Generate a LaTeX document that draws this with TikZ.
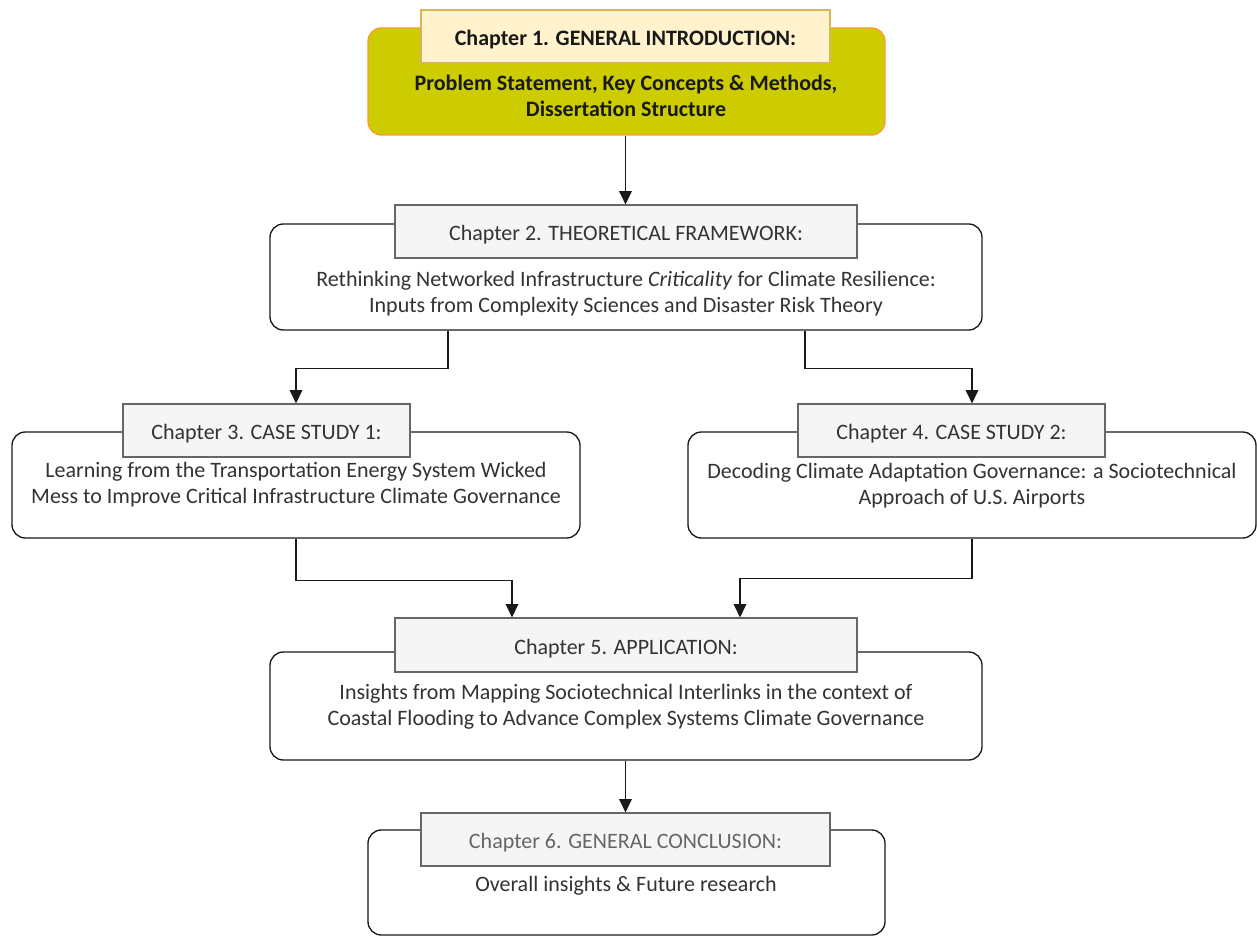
\documentclass[tikz,border=0pt]{standalone}
\usepackage{fontspec}
\setmainfont{Carlito}
\usetikzlibrary{arrows.meta,positioning,calc}
\definecolor{olivefill}{HTML}{CCCC00}
\definecolor{orangeline}{HTML}{FF9933}
\definecolor{creamfill}{HTML}{FFF2CC}
\definecolor{creamline}{HTML}{D6B656}
\definecolor{greyfill}{HTML}{F5F5F5}
\definecolor{greyline}{HTML}{666666}
\definecolor{txt}{HTML}{333333}
\tikzset{
  outerbox/.style={draw=black!90, fill=white, rounded corners=10pt, line width=1pt, inner sep=0pt},
  labbox/.style={draw=greyline, fill=greyfill, line width=0.9pt, inner sep=0pt, text=txt, text height=1.55em, text depth=0.2em, font=\fontsize{16.5}{19.5}\selectfont},
  bodytxt/.style={align=center, text=txt, font=\fontsize{16.5}{19.5}\selectfont},
  arr/.style={-{Triangle[length=10pt,width=9.5pt]}, line width=1pt, black!90}
}
\begin{document}
\begin{tikzpicture}[x=0.75pt, y=-0.75pt]
      \useasboundingbox (0,0) rectangle (1257,937);
      % Chapter 1
      \node[outerbox, fill=olivefill, draw=orangeline, minimum width=517*0.75pt, minimum height=107*0.75pt] (ch1) at (626.5,81.5) {};
      \node[labbox, fill=creamfill, draw=creamline, minimum width=409*0.75pt, minimum height=53*0.75pt, font=\fontsize{16.5}{19.5}\selectfont\bfseries, text=black!90] (ch1lab) at (625.5,36.5) {Chapter 1. GENERAL INTRODUCTION:};
      \node[bodytxt, font=\fontsize{16.5}{19.5}\selectfont\bfseries, text=black!90] (ch1txt) at (626,96) {Problem Statement, Key Concepts \& Methods,\\Dissertation Structure};
      % Chapter 2
      \node[outerbox, minimum width=712*0.75pt, minimum height=106*0.75pt] (ch2) at (626,277) {};
      \node[labbox, minimum width=462*0.75pt, minimum height=53*0.75pt] (ch2lab) at (626,231.5) {Chapter 2. THEORETICAL FRAMEWORK:};
      \node[bodytxt] (ch2txt) at (626,294) {Rethinking Networked Infrastructure \textit{Criticality} for Climate Resilience:\\Inputs from Complexity Sciences and Disaster Risk Theory};
      % Chapter 3 and 4
      \node[outerbox, minimum width=568*0.75pt, minimum height=106*0.75pt] (ch3) at (296,485) {};
      \node[labbox, minimum width=287*0.75pt, minimum height=53*0.75pt] (ch3lab) at (266.5,430.5) {Chapter 3. CASE STUDY 1:};
      \node[bodytxt] (ch3txt) at (296,485) {Learning from the Transportation Energy System Wicked\\Mess to Improve Critical Infrastructure Climate Governance};
      \node[outerbox, minimum width=568*0.75pt, minimum height=106*0.75pt] (ch4) at (972,485) {};
      \node[labbox, minimum width=307*0.75pt, minimum height=53*0.75pt] (ch4lab) at (951.5,430.5) {Chapter 4. CASE STUDY 2:};
      \node[bodytxt] (ch4txt) at (972,486) {Decoding Climate Adaptation Governance: a Sociotechnical\\Approach of U.S. Airports};
      % Chapter 5
      \node[outerbox, minimum width=712*0.75pt, minimum height=108*0.75pt] (ch5) at (626,706) {};
      \node[labbox, minimum width=462*0.75pt, minimum height=54*0.75pt] (ch5lab) at (626,645) {Chapter 5. APPLICATION:};
      \node[bodytxt] (ch5txt) at (626,707) {Insights from Mapping Sociotechnical Interlinks in the context of\\Coastal Flooding to Advance Complex Systems Climate Governance};
      % Chapter 6
      \node[outerbox, minimum width=517*0.75pt, minimum height=105*0.75pt] (ch6) at (626.5,882.5) {};
      \node[labbox, minimum width=409*0.75pt, minimum height=53*0.75pt, text=greyline] (ch6lab) at (625.5,839.5) {Chapter 6. GENERAL CONCLUSION:};
      \node[bodytxt] (ch6txt) at (626,886) {Overall insights \& Future research};
      % Connectors
      \draw[arr] (ch1.south -| ch1lab.north) -- (ch2lab.north -| ch1lab.north);
      \draw[arr] ([xshift=-178*0.75pt]ch2.south) -- ++(0,38) -| (ch3.center |- ch3lab.north);
      \draw[arr] ([xshift=179*0.75pt]ch2.south) -- ++(0,38) -| (ch4.center |- ch4lab.north);
      \draw[arr] (ch3.south) -- ++(0,42) -| ([xshift=-114*0.75pt]ch5lab.north);
      \draw[arr] (ch4.south) -- ++(0,40) -| ([xshift=114*0.75pt]ch5lab.north);
      \draw[arr] (ch5.south -| ch1lab.north) -- (ch6lab.north);
    \end{tikzpicture}
\end{document}
